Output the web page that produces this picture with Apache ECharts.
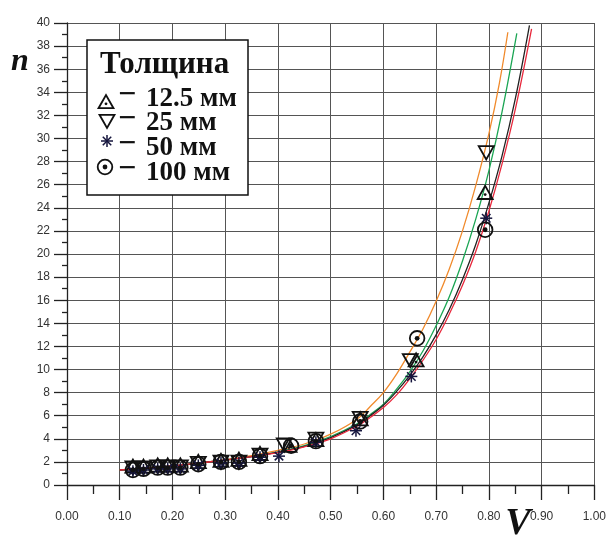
<!DOCTYPE html>
<html>
<head>
<meta charset="utf-8">
<script src="https://cdn.jsdelivr.net/npm/echarts@6/dist/echarts.min.js"></script>
<style>
  html, body { margin: 0; padding: 0; background: #fff; }
  #chart { width: 609px; height: 539px; }
</style>
</head>
<body>
<div id="chart"></div>
<script>
// Axis tick labels
const xTickLabels = ['0.00', '0.10', '0.20', '0.30', '0.40', '0.50', '0.60', '0.70', '0.80', '0.90', '1.00'];
const yTickLabels = ['0', '2', '4', '6', '8', '10', '12', '14', '16', '18', '20', '22', '24', '26', '28', '30', '32', '34', '36', '38', '40'];

// Legend entries (thickness)
const legendTitle = 'Толщина';
const legendLabels = ['12.5 мм', '25 мм', '50 мм', '100 мм'];

// Measured points, 12.5 mm (triangle up)
const v125 = [0.125, 0.145, 0.172, 0.191, 0.215, 0.249, 0.292, 0.326, 0.366, 0.421, 0.472, 0.556, 0.662, 0.793];
const n125 = [1.6, 1.6, 1.7, 1.7, 1.7, 2.0, 2.1, 2.2, 2.7, 3.4, 3.9, 5.7, 10.8, 25.3];
// Measured points, 25 mm (triangle down)
const v25 = [0.125, 0.145, 0.172, 0.191, 0.215, 0.249, 0.292, 0.326, 0.366, 0.412, 0.472, 0.556, 0.651, 0.795];
const n25 = [1.5, 1.5, 1.6, 1.6, 1.6, 1.9, 2.0, 2.0, 2.6, 3.5, 4.0, 5.8, 10.8, 28.8];
// Measured points, 50 mm (asterisk)
const v50 = [0.125, 0.145, 0.172, 0.191, 0.215, 0.249, 0.292, 0.326, 0.366, 0.402, 0.472, 0.548, 0.653, 0.795];
const n50 = [1.2, 1.3, 1.4, 1.4, 1.4, 1.7, 1.9, 1.9, 2.4, 2.5, 3.7, 4.7, 9.4, 23.1];
// Measured points, 100 mm (dotted circle)
const v100 = [0.125, 0.145, 0.172, 0.191, 0.215, 0.249, 0.292, 0.326, 0.366, 0.425, 0.472, 0.556, 0.664, 0.793];
const n100 = [1.3, 1.4, 1.5, 1.5, 1.5, 1.8, 2.0, 2.0, 2.5, 3.4, 3.8, 5.5, 12.7, 22.1];

// Fitted curves (orange: 25 mm, green: 12.5 mm, black: 50 mm, red: 100 mm)
const curveV25 = [0.10, 0.15, 0.20, 0.25, 0.30, 0.35, 0.40, 0.45, 0.50, 0.55, 0.575, 0.60, 0.625, 0.65, 0.675, 0.70, 0.725, 0.75, 0.775, 0.80, 0.82, 0.836];
const curveN25 = [1.3, 1.45, 1.65, 1.9, 2.2, 2.55, 3.0, 3.55, 4.4, 5.7, 6.8, 8.0, 9.6, 11.5, 13.5, 15.9, 18.7, 22.0, 25.9, 30.4, 34.8, 39.2];
const curveV125 = [0.10, 0.15, 0.20, 0.25, 0.30, 0.35, 0.40, 0.45, 0.50, 0.55, 0.575, 0.60, 0.625, 0.65, 0.675, 0.70, 0.725, 0.75, 0.775, 0.80, 0.825, 0.853];
const curveN125 = [1.3, 1.45, 1.65, 1.9, 2.15, 2.45, 2.85, 3.4, 4.2, 5.3, 6.1, 7.0, 8.3, 9.8, 11.6, 13.8, 16.3, 19.4, 23.0, 27.2, 32.3, 39.1];
const curveV50 = [0.10, 0.15, 0.20, 0.25, 0.30, 0.35, 0.40, 0.45, 0.50, 0.55, 0.575, 0.60, 0.625, 0.65, 0.675, 0.70, 0.725, 0.75, 0.775, 0.80, 0.825, 0.85, 0.877];
const curveN50 = [1.3, 1.45, 1.65, 1.9, 2.15, 2.45, 2.85, 3.35, 4.1, 5.2, 6.0, 6.9, 8.1, 9.5, 11.1, 13.0, 15.2, 17.8, 20.8, 24.4, 28.5, 33.4, 39.8];
const curveV100 = [0.10, 0.15, 0.20, 0.25, 0.30, 0.35, 0.40, 0.45, 0.50, 0.55, 0.575, 0.60, 0.625, 0.65, 0.675, 0.70, 0.725, 0.75, 0.775, 0.80, 0.825, 0.85, 0.881];
const curveN100 = [1.3, 1.45, 1.65, 1.9, 2.15, 2.45, 2.8, 3.3, 4.0, 5.1, 5.85, 6.7, 7.8, 9.2, 10.8, 12.6, 14.8, 17.3, 20.2, 23.7, 27.8, 32.5, 39.5];

const zip = (a, b) => a.map((v, i) => [v, b[i]]);

const INK = '#111';
const STAR = '#15153d';

// Marker outlines for each thickness
function markerShapes(kind, x, y) {
  const st = { stroke: INK, fill: 'none', lineWidth: 1.8 };
  if (kind === 'up') {
    return [
      { type: 'polygon', shape: { points: [[x - 7.5, y + 6.2], [x + 7.5, y + 6.2], [x, y - 7]] }, style: st },
      { type: 'circle', shape: { cx: x, cy: y + 1.8, r: 1.4 }, style: { fill: INK } }
    ];
  }
  if (kind === 'down') {
    return [
      { type: 'polygon', shape: { points: [[x - 7.5, y - 6.2], [x + 7.5, y - 6.2], [x, y + 7]] }, style: st }
    ];
  }
  if (kind === 'star') {
    const r = 6;
    const out = [];
    [0, 45, 90, 135].forEach(function (a) {
      const t = a * Math.PI / 180;
      out.push({ type: 'line', shape: { x1: x - r * Math.cos(t), y1: y - r * Math.sin(t), x2: x + r * Math.cos(t), y2: y + r * Math.sin(t) }, style: { stroke: STAR, lineWidth: 1.5 } });
    });
    return out;
  }
  return [
    { type: 'circle', shape: { cx: x, cy: y, r: 7.3 }, style: st },
    { type: 'circle', shape: { cx: x, cy: y, r: 2.4 }, style: { fill: INK } }
  ];
}

function markerSeries(kind, data) {
  return {
    type: 'custom',
    data: data,
    z: 5,
    encode: { x: 0, y: 1 },
    renderItem: function (params, api) {
      const c = api.coord([api.value(0), api.value(1)]);
      return { type: 'group', children: markerShapes(kind, c[0], c[1]) };
    }
  };
}

function curveSeries(color, vs, ns) {
  return {
    type: 'line',
    data: zip(vs, ns),
    smooth: 0.4,
    symbol: 'none',
    z: 3,
    lineStyle: { color: color, width: 1.3 }
  };
}

const chart = echarts.init(document.getElementById('chart'));

// Legend drawn as a framed block of text and symbols
const serif = '"Liberation Serif", "DejaVu Serif", serif';
const legendRows = [
  { kind: 'up', sx: 106, sy: 102, ty: 99 },
  { kind: 'down', sx: 107, sy: 121, ty: 123 },
  { kind: 'star', sx: 107, sy: 141, ty: 148 },
  { kind: 'circle', sx: 105, sy: 167, ty: 173 }
];
const legendGraphic = [
  { type: 'rect', shape: { x: 87, y: 40, width: 161, height: 155 }, style: { fill: '#fff', stroke: INK, lineWidth: 1.5 }, z: 10 },
  { type: 'text', x: 100, y: 65, z: 11, style: { text: legendTitle, font: 'bold 31px ' + serif, fill: '#111', verticalAlign: 'middle' } }
];
legendRows.forEach(function (row, i) {
  markerShapes(row.kind, row.sx, row.sy).forEach(function (s) { s.z = 11; legendGraphic.push(s); });
  legendGraphic.push({ type: 'text', x: 118, y: row.ty - 3, z: 11, style: { text: '−', font: 'bold 32px ' + serif, fill: '#111', verticalAlign: 'middle' } });
  legendGraphic.push({ type: 'text', x: 146, y: row.ty, z: 11, style: { text: legendLabels[i], font: 'bold 27px ' + serif, fill: '#111', verticalAlign: 'middle' } });
});
// Axis symbols
legendGraphic.push({ type: 'text', x: 20, y: 62, z: 11, style: { text: 'n', font: 'italic bold 32px ' + serif, fill: '#111', align: 'center', verticalAlign: 'middle' } });
legendGraphic.push({ type: 'text', x: 518, y: 524, z: 11, style: { text: 'V', font: 'italic bold 38px ' + serif, fill: '#111', align: 'center', verticalAlign: 'middle' } });

chart.setOption({
  animation: false,
  backgroundColor: '#fff',
  grid: { left: 67, right: 12, top: 23, bottom: 54, containLabel: false },
  xAxis: {
    type: 'value', min: 0, max: 1, interval: 0.1,
    axisLine: { show: true, onZero: false, lineStyle: { color: '#222', width: 1.3 } },
    axisTick: { show: true, length: 15, lineStyle: { color: '#222', width: 1.3 } },
    minorTick: { show: true, splitNumber: 2, length: 9, lineStyle: { color: '#222', width: 1.3 } },
    splitLine: { show: true, lineStyle: { color: '#555', width: 1 } },
    axisLabel: {
      margin: 26, color: '#333', fontSize: 12, fontFamily: '"Liberation Sans", Arial, sans-serif',
      formatter: function (v) { return xTickLabels[Math.round(v * 10)]; }
    }
  },
  yAxis: {
    type: 'value', min: 0, max: 40, interval: 2,
    axisLine: { show: true, onZero: false, lineStyle: { color: '#222', width: 1.3 } },
    axisTick: { show: true, length: 13, lineStyle: { color: '#222', width: 1.3 } },
    minorTick: { show: true, splitNumber: 2, length: 5, lineStyle: { color: '#222', width: 1.3 } },
    splitLine: { show: true, lineStyle: { color: '#555', width: 1 } },
    axisLabel: {
      margin: 17, color: '#333', fontSize: 12, fontFamily: '"Liberation Sans", Arial, sans-serif',
      formatter: function (v) { return yTickLabels[Math.round(v / 2)]; }
    }
  },
  graphic: legendGraphic,
  series: [
    curveSeries('#f08a2c', curveV25, curveN25),
    curveSeries('#1aa553', curveV125, curveN125),
    curveSeries('#222222', curveV50, curveN50),
    curveSeries('#e8283c', curveV100, curveN100),
    markerSeries('up', zip(v125, n125)),
    markerSeries('down', zip(v25, n25)),
    markerSeries('star', zip(v50, n50)),
    markerSeries('circle', zip(v100, n100))
  ]
});
</script>
</body>
</html>
